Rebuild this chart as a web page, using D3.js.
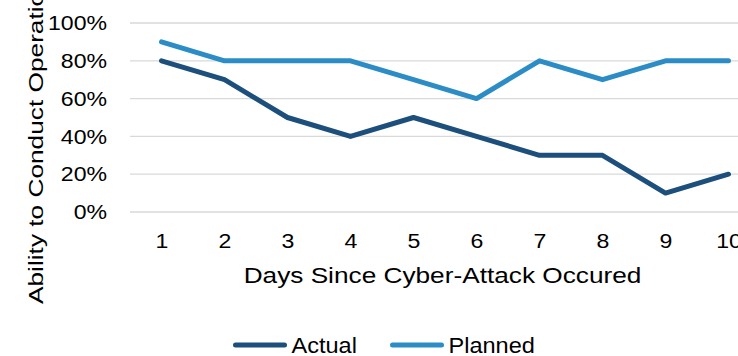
<!DOCTYPE html>
<html>
<head>
<meta charset="utf-8">
<script src="https://cdn.jsdelivr.net/npm/d3@7"></script>
<style>
  html, body { margin: 0; padding: 0; background: #fff; overflow: hidden; }
  text { font-family: "Liberation Sans", Arial, sans-serif; fill: #000; }
</style>
</head>
<body>
<svg id="chart" width="738" height="356"></svg>
<script>
// Days since the attack and share of operations that can be conducted
const days = ["1", "2", "3", "4", "5", "6", "7", "8", "9", "10"];
const actual = [0.8, 0.7, 0.5, 0.4, 0.5, 0.4, 0.3, 0.3, 0.1, 0.2];
const planned = [0.9, 0.8, 0.8, 0.8, 0.7, 0.6, 0.8, 0.7, 0.8, 0.8];
const yTicks = [0, 0.2, 0.4, 0.6, 0.8, 1.0];
const seriesNames = ["Actual", "Planned"];
const seriesColors = ["#1d4f7c", "#2c8dc6"];

const svg = d3.select("#chart");
const margin = { left: 130, top: 23, right: -22, bottom: 144 };
const W = 738, H = 356;

// the typeface is set a little wider than regular Arial
const tickStretch = 1.1;
const xTitleStretch = 1.22;
const yTitleStretch = 1.25;
const legendStretch = 1.07;

const x = d3.scalePoint()
  .domain(days)
  .range([margin.left, W - margin.right])
  .padding(0.5);

const y = d3.scaleLinear()
  .domain([0, 1])
  .range([H - margin.bottom, margin.top]);

// horizontal gridlines
svg.append("g")
  .selectAll("line")
  .data(yTicks)
  .join("line")
  .attr("x1", margin.left)
  .attr("x2", W - margin.right)
  .attr("y1", d => y(d))
  .attr("y2", d => y(d))
  .attr("stroke", "#d9d9d9")
  .attr("stroke-width", 1.3);

// y axis labels
const yPad = 23;
const yAxis = d3.axisLeft(y)
  .tickValues(yTicks)
  .tickFormat(d3.format(".0%"))
  .tickSize(0)
  .tickPadding(yPad);
svg.append("g")
  .attr("transform", `translate(${margin.left},0)`)
  .call(yAxis)
  .call(g => g.select(".domain").remove())
  .selectAll("text")
  .style("font-size", "21px")
  .style("font-family", "'Liberation Sans', Arial, sans-serif")
  .attr("fill", "#000")
  .attr("x", -yPad / tickStretch)
  .attr("transform", `scale(${tickStretch},1)`);

// x axis labels
const xAxis = d3.axisBottom(x).tickSize(0).tickPadding(21.5);
svg.append("g")
  .attr("transform", `translate(0,${y(0)})`)
  .call(xAxis)
  .call(g => g.select(".domain").remove())
  .selectAll("text")
  .style("font-size", "21px")
  .style("font-family", "'Liberation Sans', Arial, sans-serif")
  .attr("fill", "#000")
  .attr("transform", `scale(${tickStretch},1)`);

// axis titles
svg.append("text")
  .attr("transform", `translate(442.5,283) scale(${xTitleStretch},1)`)
  .attr("text-anchor", "middle")
  .style("font-size", "21.5px")
  .text("Days Since Cyber-Attack Occured");

svg.append("text")
  .attr("transform", `translate(43,304) rotate(-90) scale(${yTitleStretch},1)`)
  .attr("text-anchor", "start")
  .style("font-size", "21px")
  .text("Ability to Conduct Operations");

// series lines
const line = d3.line()
  .x((d, i) => x(days[i]))
  .y(d => y(d));

[actual, planned].forEach((vals, k) => {
  svg.append("path")
    .datum(vals)
    .attr("d", line)
    .attr("fill", "none")
    .attr("stroke", seriesColors[k])
    .attr("stroke-width", 5)
    .attr("stroke-linecap", "round")
    .attr("stroke-linejoin", "round");
});

// legend
const legendItems = [
  { name: seriesNames[0], color: seriesColors[0], x: 235.5 },
  { name: seriesNames[1], color: seriesColors[1], x: 392.5 }
];
const lg = svg.append("g").selectAll("g").data(legendItems).join("g")
  .attr("transform", d => `translate(${d.x},345)`);
lg.append("line")
  .attr("x1", 0).attr("x2", 49)
  .attr("y1", 0).attr("y2", 0)
  .attr("stroke", d => d.color)
  .attr("stroke-width", 5)
  .attr("stroke-linecap", "round");
lg.append("text")
  .attr("transform", `translate(56,8) scale(${legendStretch},1)`)
  .style("font-size", "22px")
  .text(d => d.name);
</script>
</body>
</html>
